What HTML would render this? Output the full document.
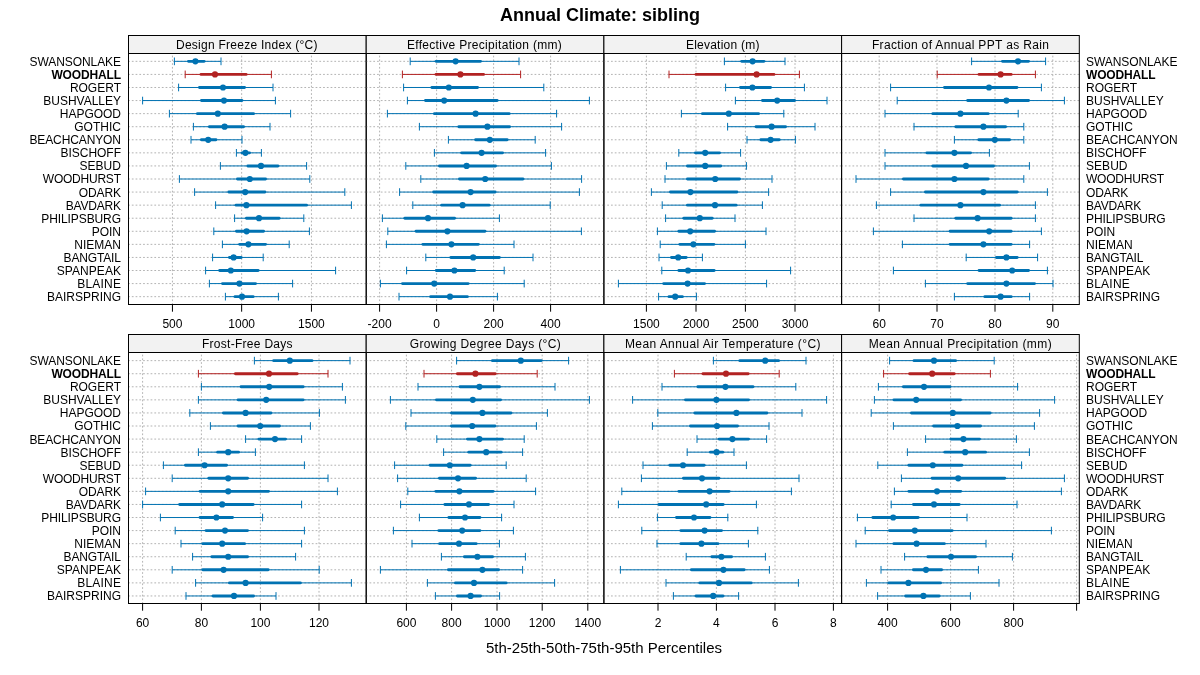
<!DOCTYPE html><html><head><meta charset="utf-8"><title>Annual Climate: sibling</title>
<style>html,body{margin:0;padding:0;background:#fff;}svg{display:block;will-change:transform;}text{font-family:'Liberation Sans', Arial, Helvetica, sans-serif;fill:#000;}</style></head><body>
<svg width="1200" height="675" viewBox="0 0 1200 675">
<rect x="0" y="0" width="1200" height="675" fill="#fff"/>
<text x="600" y="20.6" text-anchor="middle" font-weight="bold" font-size="18">Annual Climate: sibling</text>
<text x="121" y="66" text-anchor="end" font-size="12" textLength="91.45" lengthAdjust="spacing">SWANSONLAKE</text>
<text x="1086" y="66" font-size="12" textLength="91.45" lengthAdjust="spacing">SWANSONLAKE</text>
<text x="121" y="79" text-anchor="end" font-size="12" textLength="69.61" lengthAdjust="spacing" font-weight="bold">WOODHALL</text>
<text x="1086" y="79" font-size="12" textLength="69.61" lengthAdjust="spacing" font-weight="bold">WOODHALL</text>
<text x="121" y="92" text-anchor="end" font-size="12" textLength="51.12" lengthAdjust="spacing">ROGERT</text>
<text x="1086" y="92" font-size="12" textLength="51.12" lengthAdjust="spacing">ROGERT</text>
<text x="121" y="105" text-anchor="end" font-size="12" textLength="77.71" lengthAdjust="spacing">BUSHVALLEY</text>
<text x="1086" y="105" font-size="12" textLength="77.71" lengthAdjust="spacing">BUSHVALLEY</text>
<text x="121" y="118" text-anchor="end" font-size="12" textLength="61.24" lengthAdjust="spacing">HAPGOOD</text>
<text x="1086" y="118" font-size="12" textLength="61.24" lengthAdjust="spacing">HAPGOOD</text>
<text x="121" y="131" text-anchor="end" font-size="12" textLength="46.87" lengthAdjust="spacing">GOTHIC</text>
<text x="1086" y="131" font-size="12" textLength="46.87" lengthAdjust="spacing">GOTHIC</text>
<text x="121" y="144" text-anchor="end" font-size="12" textLength="91.59" lengthAdjust="spacing">BEACHCANYON</text>
<text x="1086" y="144" font-size="12" textLength="91.59" lengthAdjust="spacing">BEACHCANYON</text>
<text x="121" y="157" text-anchor="end" font-size="12" textLength="60.47" lengthAdjust="spacing">BISCHOFF</text>
<text x="1086" y="157" font-size="12" textLength="60.47" lengthAdjust="spacing">BISCHOFF</text>
<text x="121" y="170" text-anchor="end" font-size="12" textLength="41.54" lengthAdjust="spacing">SEBUD</text>
<text x="1086" y="170" font-size="12" textLength="41.54" lengthAdjust="spacing">SEBUD</text>
<text x="121" y="183" text-anchor="end" font-size="12" textLength="78.2" lengthAdjust="spacing">WOODHURST</text>
<text x="1086" y="183" font-size="12" textLength="78.2" lengthAdjust="spacing">WOODHURST</text>
<text x="121" y="197" text-anchor="end" font-size="12" textLength="42.19" lengthAdjust="spacing">ODARK</text>
<text x="1086" y="197" font-size="12" textLength="42.19" lengthAdjust="spacing">ODARK</text>
<text x="121" y="210" text-anchor="end" font-size="12" textLength="55.27" lengthAdjust="spacing">BAVDARK</text>
<text x="1086" y="210" font-size="12" textLength="55.27" lengthAdjust="spacing">BAVDARK</text>
<text x="121" y="223" text-anchor="end" font-size="12" textLength="79.65" lengthAdjust="spacing">PHILIPSBURG</text>
<text x="1086" y="223" font-size="12" textLength="79.65" lengthAdjust="spacing">PHILIPSBURG</text>
<text x="121" y="236" text-anchor="end" font-size="12" textLength="29.29" lengthAdjust="spacing">POIN</text>
<text x="1086" y="236" font-size="12" textLength="29.29" lengthAdjust="spacing">POIN</text>
<text x="121" y="249" text-anchor="end" font-size="12" textLength="46.67" lengthAdjust="spacing">NIEMAN</text>
<text x="1086" y="249" font-size="12" textLength="46.67" lengthAdjust="spacing">NIEMAN</text>
<text x="121" y="262" text-anchor="end" font-size="12" textLength="57.47" lengthAdjust="spacing">BANGTAIL</text>
<text x="1086" y="262" font-size="12" textLength="57.47" lengthAdjust="spacing">BANGTAIL</text>
<text x="121" y="275" text-anchor="end" font-size="12" textLength="64.21" lengthAdjust="spacing">SPANPEAK</text>
<text x="1086" y="275" font-size="12" textLength="64.21" lengthAdjust="spacing">SPANPEAK</text>
<text x="121" y="288" text-anchor="end" font-size="12" textLength="43.79" lengthAdjust="spacing">BLAINE</text>
<text x="1086" y="288" font-size="12" textLength="43.79" lengthAdjust="spacing">BLAINE</text>
<text x="121" y="301" text-anchor="end" font-size="12" textLength="73.97" lengthAdjust="spacing">BAIRSPRING</text>
<text x="1086" y="301" font-size="12" textLength="73.97" lengthAdjust="spacing">BAIRSPRING</text>
<rect x="128.5" y="35.5" width="237.7" height="18" fill="#f2f2f2"/>
<text x="176" y="49" font-size="12" textLength="141.52" lengthAdjust="spacing">Design Freeze Index (°C)</text>
<path d="M128.5 61.34H366.2M128.5 74.42H366.2M128.5 87.49H366.2M128.5 100.56H366.2M128.5 113.64H366.2M128.5 126.71H366.2M128.5 139.78H366.2M128.5 152.85H366.2M128.5 165.93H366.2M128.5 179H366.2M128.5 192.07H366.2M128.5 205.15H366.2M128.5 218.22H366.2M128.5 231.29H366.2M128.5 244.36H366.2M128.5 257.44H366.2M128.5 270.51H366.2M128.5 283.58H366.2M128.5 296.66H366.2M172.45 304.5V53.5M241.65 304.5V53.5M311.45 304.5V53.5" stroke="#afafaf" stroke-width="0.95" stroke-dasharray="0.95 2.8" stroke-linecap="round" fill="none"/>
<g stroke="#0072B2" fill="#0072B2">
<path d="M174.4 61.34H221M174.4 57.49V65.19M221 57.49V65.19" stroke-width="1" fill="none"/>
<path d="M188.45 61.34H204.15" stroke-width="2.9" stroke-linecap="round" fill="none"/>
<circle cx="195.4" cy="61.34" r="3.1" stroke="none"/>
</g>
<g stroke="#B22222" fill="#B22222">
<path d="M185.2 74.42H271.4M185.2 70.57V78.27M271.4 70.57V78.27" stroke-width="1" fill="none"/>
<path d="M201.05 74.42H246.15" stroke-width="2.9" stroke-linecap="round" fill="none"/>
<circle cx="215" cy="74.42" r="3.1" stroke="none"/>
</g>
<g stroke="#0072B2" fill="#0072B2">
<path d="M178.6 87.49H273M178.6 83.64V91.34M273 83.64V91.34" stroke-width="1" fill="none"/>
<path d="M199.45 87.49H244.55" stroke-width="2.9" stroke-linecap="round" fill="none"/>
<circle cx="223" cy="87.49" r="3.1" stroke="none"/>
</g>
<g stroke="#0072B2" fill="#0072B2">
<path d="M142.6 100.56H275.4M142.6 96.71V104.41M275.4 96.71V104.41" stroke-width="1" fill="none"/>
<path d="M201.45 100.56H241.95" stroke-width="2.9" stroke-linecap="round" fill="none"/>
<circle cx="224" cy="100.56" r="3.1" stroke="none"/>
</g>
<g stroke="#0072B2" fill="#0072B2">
<path d="M169.4 113.64H290.6M169.4 109.79V117.49M290.6 109.79V117.49" stroke-width="1" fill="none"/>
<path d="M197.45 113.64H253.55" stroke-width="2.9" stroke-linecap="round" fill="none"/>
<circle cx="217.8" cy="113.64" r="3.1" stroke="none"/>
</g>
<g stroke="#0072B2" fill="#0072B2">
<path d="M193.4 126.71H270M193.4 122.86V130.56M270 122.86V130.56" stroke-width="1" fill="none"/>
<path d="M209.45 126.71H243.55" stroke-width="2.9" stroke-linecap="round" fill="none"/>
<circle cx="224.6" cy="126.71" r="3.1" stroke="none"/>
</g>
<g stroke="#0072B2" fill="#0072B2">
<path d="M191 139.78H242M191 135.93V143.63M242 135.93V143.63" stroke-width="1" fill="none"/>
<path d="M201.45 139.78H215.95" stroke-width="2.9" stroke-linecap="round" fill="none"/>
<circle cx="208.2" cy="139.78" r="3.1" stroke="none"/>
</g>
<g stroke="#0072B2" fill="#0072B2">
<path d="M236.4 152.85H261.4M236.4 149V156.7M261.4 149V156.7" stroke-width="1" fill="none"/>
<path d="M242.05 152.85H249.55" stroke-width="2.9" stroke-linecap="round" fill="none"/>
<circle cx="245.4" cy="152.85" r="3.1" stroke="none"/>
</g>
<g stroke="#0072B2" fill="#0072B2">
<path d="M220.4 165.93H306.6M220.4 162.08V169.78M306.6 162.08V169.78" stroke-width="1" fill="none"/>
<path d="M247.85 165.93H277.95" stroke-width="2.9" stroke-linecap="round" fill="none"/>
<circle cx="261" cy="165.93" r="3.1" stroke="none"/>
</g>
<g stroke="#0072B2" fill="#0072B2">
<path d="M179.4 179H309.8M179.4 175.15V182.85M309.8 175.15V182.85" stroke-width="1" fill="none"/>
<path d="M237.45 179H265.55" stroke-width="2.9" stroke-linecap="round" fill="none"/>
<circle cx="249.8" cy="179" r="3.1" stroke="none"/>
</g>
<g stroke="#0072B2" fill="#0072B2">
<path d="M194.6 192.07H344.8M194.6 188.22V195.92M344.8 188.22V195.92" stroke-width="1" fill="none"/>
<path d="M228.85 192.07H264.95" stroke-width="2.9" stroke-linecap="round" fill="none"/>
<circle cx="245.2" cy="192.07" r="3.1" stroke="none"/>
</g>
<g stroke="#0072B2" fill="#0072B2">
<path d="M215.6 205.15H351.4M215.6 201.3V209M351.4 201.3V209" stroke-width="1" fill="none"/>
<path d="M236.05 205.15H306.55" stroke-width="2.9" stroke-linecap="round" fill="none"/>
<circle cx="246.4" cy="205.15" r="3.1" stroke="none"/>
</g>
<g stroke="#0072B2" fill="#0072B2">
<path d="M234.6 218.22H303.8M234.6 214.37V222.07M303.8 214.37V222.07" stroke-width="1" fill="none"/>
<path d="M246.45 218.22H279.15" stroke-width="2.9" stroke-linecap="round" fill="none"/>
<circle cx="259" cy="218.22" r="3.1" stroke="none"/>
</g>
<g stroke="#0072B2" fill="#0072B2">
<path d="M213.8 231.29H309.4M213.8 227.44V235.14M309.4 227.44V235.14" stroke-width="1" fill="none"/>
<path d="M236.45 231.29H263.55" stroke-width="2.9" stroke-linecap="round" fill="none"/>
<circle cx="246.6" cy="231.29" r="3.1" stroke="none"/>
</g>
<g stroke="#0072B2" fill="#0072B2">
<path d="M222.4 244.36H289.2M222.4 240.51V248.21M289.2 240.51V248.21" stroke-width="1" fill="none"/>
<path d="M239.65 244.36H265.55" stroke-width="2.9" stroke-linecap="round" fill="none"/>
<circle cx="248.4" cy="244.36" r="3.1" stroke="none"/>
</g>
<g stroke="#0072B2" fill="#0072B2">
<path d="M212.6 257.44H263.2M212.6 253.59V261.29M263.2 253.59V261.29" stroke-width="1" fill="none"/>
<path d="M229.45 257.44H241.15" stroke-width="2.9" stroke-linecap="round" fill="none"/>
<circle cx="233.6" cy="257.44" r="3.1" stroke="none"/>
</g>
<g stroke="#0072B2" fill="#0072B2">
<path d="M205.6 270.51H335.6M205.6 266.66V274.36M335.6 266.66V274.36" stroke-width="1" fill="none"/>
<path d="M219.65 270.51H258.15" stroke-width="2.9" stroke-linecap="round" fill="none"/>
<circle cx="230.8" cy="270.51" r="3.1" stroke="none"/>
</g>
<g stroke="#0072B2" fill="#0072B2">
<path d="M209.4 283.58H292.6M209.4 279.73V287.43M292.6 279.73V287.43" stroke-width="1" fill="none"/>
<path d="M222.45 283.58H255.55" stroke-width="2.9" stroke-linecap="round" fill="none"/>
<circle cx="239.4" cy="283.58" r="3.1" stroke="none"/>
</g>
<g stroke="#0072B2" fill="#0072B2">
<path d="M225.4 296.66H278.4M225.4 292.81V300.51M278.4 292.81V300.51" stroke-width="1" fill="none"/>
<path d="M235.05 296.66H253.15" stroke-width="2.9" stroke-linecap="round" fill="none"/>
<circle cx="242" cy="296.66" r="3.1" stroke="none"/>
</g>
<path d="M172.45 304.5V311.7M241.65 304.5V311.7M311.45 304.5V311.7" stroke="#000" stroke-width="1" fill="none"/>
<text x="172.45" y="328" text-anchor="middle" font-size="12">500</text>
<text x="241.65" y="328" text-anchor="middle" font-size="12">1000</text>
<text x="311.45" y="328" text-anchor="middle" font-size="12">1500</text>
<rect x="128.5" y="35.5" width="237.7" height="269" fill="none" stroke="#000" stroke-width="1"/>
<path d="M128.5 53.5H366.2" stroke="#000" stroke-width="1"/>
<rect x="366.2" y="35.5" width="237.7" height="18" fill="#f2f2f2"/>
<text x="406.9" y="49" font-size="12" textLength="154.9" lengthAdjust="spacing">Effective Precipitation (mm)</text>
<path d="M366.2 61.34H603.9M366.2 74.42H603.9M366.2 87.49H603.9M366.2 100.56H603.9M366.2 113.64H603.9M366.2 126.71H603.9M366.2 139.78H603.9M366.2 152.85H603.9M366.2 165.93H603.9M366.2 179H603.9M366.2 192.07H603.9M366.2 205.15H603.9M366.2 218.22H603.9M366.2 231.29H603.9M366.2 244.36H603.9M366.2 257.44H603.9M366.2 270.51H603.9M366.2 283.58H603.9M366.2 296.66H603.9M379.6 304.5V53.5M436.6 304.5V53.5M493.6 304.5V53.5M550.6 304.5V53.5" stroke="#afafaf" stroke-width="0.95" stroke-dasharray="0.95 2.8" stroke-linecap="round" fill="none"/>
<g stroke="#0072B2" fill="#0072B2">
<path d="M410.2 61.34H519M410.2 57.49V65.19M519 57.49V65.19" stroke-width="1" fill="none"/>
<path d="M436.05 61.34H480.55" stroke-width="2.9" stroke-linecap="round" fill="none"/>
<circle cx="455.6" cy="61.34" r="3.1" stroke="none"/>
</g>
<g stroke="#B22222" fill="#B22222">
<path d="M402.4 74.42H520.6M402.4 70.57V78.27M520.6 70.57V78.27" stroke-width="1" fill="none"/>
<path d="M436.05 74.42H483.55" stroke-width="2.9" stroke-linecap="round" fill="none"/>
<circle cx="460.4" cy="74.42" r="3.1" stroke="none"/>
</g>
<g stroke="#0072B2" fill="#0072B2">
<path d="M403.6 87.49H543.8M403.6 83.64V91.34M543.8 83.64V91.34" stroke-width="1" fill="none"/>
<path d="M431.85 87.49H477.55" stroke-width="2.9" stroke-linecap="round" fill="none"/>
<circle cx="448.8" cy="87.49" r="3.1" stroke="none"/>
</g>
<g stroke="#0072B2" fill="#0072B2">
<path d="M407.4 100.56H589.4M407.4 96.71V104.41M589.4 96.71V104.41" stroke-width="1" fill="none"/>
<path d="M425.45 100.56H497.15" stroke-width="2.9" stroke-linecap="round" fill="none"/>
<circle cx="444.2" cy="100.56" r="3.1" stroke="none"/>
</g>
<g stroke="#0072B2" fill="#0072B2">
<path d="M387.4 113.64H556.6M387.4 109.79V117.49M556.6 109.79V117.49" stroke-width="1" fill="none"/>
<path d="M434.45 113.64H509.15" stroke-width="2.9" stroke-linecap="round" fill="none"/>
<circle cx="475.6" cy="113.64" r="3.1" stroke="none"/>
</g>
<g stroke="#0072B2" fill="#0072B2">
<path d="M419.4 126.71H561.6M419.4 122.86V130.56M561.6 122.86V130.56" stroke-width="1" fill="none"/>
<path d="M458.85 126.71H509.55" stroke-width="2.9" stroke-linecap="round" fill="none"/>
<circle cx="487.4" cy="126.71" r="3.1" stroke="none"/>
</g>
<g stroke="#0072B2" fill="#0072B2">
<path d="M448.4 139.78H535.2M448.4 135.93V143.63M535.2 135.93V143.63" stroke-width="1" fill="none"/>
<path d="M475.65 139.78H507.15" stroke-width="2.9" stroke-linecap="round" fill="none"/>
<circle cx="489.8" cy="139.78" r="3.1" stroke="none"/>
</g>
<g stroke="#0072B2" fill="#0072B2">
<path d="M434.4 152.85H545.6M434.4 149V156.7M545.6 149V156.7" stroke-width="1" fill="none"/>
<path d="M461.65 152.85H502.55" stroke-width="2.9" stroke-linecap="round" fill="none"/>
<circle cx="481.6" cy="152.85" r="3.1" stroke="none"/>
</g>
<g stroke="#0072B2" fill="#0072B2">
<path d="M405.8 165.93H551.4M405.8 162.08V169.78M551.4 162.08V169.78" stroke-width="1" fill="none"/>
<path d="M439.45 165.93H495.55" stroke-width="2.9" stroke-linecap="round" fill="none"/>
<circle cx="466.6" cy="165.93" r="3.1" stroke="none"/>
</g>
<g stroke="#0072B2" fill="#0072B2">
<path d="M420.8 179H581.6M420.8 175.15V182.85M581.6 175.15V182.85" stroke-width="1" fill="none"/>
<path d="M459.45 179H522.95" stroke-width="2.9" stroke-linecap="round" fill="none"/>
<circle cx="485.2" cy="179" r="3.1" stroke="none"/>
</g>
<g stroke="#0072B2" fill="#0072B2">
<path d="M399.6 192.07H579.4M399.6 188.22V195.92M579.4 188.22V195.92" stroke-width="1" fill="none"/>
<path d="M433.65 192.07H495.15" stroke-width="2.9" stroke-linecap="round" fill="none"/>
<circle cx="470.6" cy="192.07" r="3.1" stroke="none"/>
</g>
<g stroke="#0072B2" fill="#0072B2">
<path d="M412.8 205.15H550.2M412.8 201.3V209M550.2 201.3V209" stroke-width="1" fill="none"/>
<path d="M441.65 205.15H489.15" stroke-width="2.9" stroke-linecap="round" fill="none"/>
<circle cx="462.6" cy="205.15" r="3.1" stroke="none"/>
</g>
<g stroke="#0072B2" fill="#0072B2">
<path d="M382.4 218.22H499.4M382.4 214.37V222.07M499.4 214.37V222.07" stroke-width="1" fill="none"/>
<path d="M404.85 218.22H454.55" stroke-width="2.9" stroke-linecap="round" fill="none"/>
<circle cx="428" cy="218.22" r="3.1" stroke="none"/>
</g>
<g stroke="#0072B2" fill="#0072B2">
<path d="M387.8 231.29H581.4M387.8 227.44V235.14M581.4 227.44V235.14" stroke-width="1" fill="none"/>
<path d="M416.05 231.29H484.95" stroke-width="2.9" stroke-linecap="round" fill="none"/>
<circle cx="447.4" cy="231.29" r="3.1" stroke="none"/>
</g>
<g stroke="#0072B2" fill="#0072B2">
<path d="M386.4 244.36H514M386.4 240.51V248.21M514 240.51V248.21" stroke-width="1" fill="none"/>
<path d="M422.85 244.36H478.35" stroke-width="2.9" stroke-linecap="round" fill="none"/>
<circle cx="451.4" cy="244.36" r="3.1" stroke="none"/>
</g>
<g stroke="#0072B2" fill="#0072B2">
<path d="M425.8 257.44H533M425.8 253.59V261.29M533 253.59V261.29" stroke-width="1" fill="none"/>
<path d="M450.85 257.44H499.35" stroke-width="2.9" stroke-linecap="round" fill="none"/>
<circle cx="473.2" cy="257.44" r="3.1" stroke="none"/>
</g>
<g stroke="#0072B2" fill="#0072B2">
<path d="M406.6 270.51H504.2M406.6 266.66V274.36M504.2 266.66V274.36" stroke-width="1" fill="none"/>
<path d="M436.25 270.51H474.75" stroke-width="2.9" stroke-linecap="round" fill="none"/>
<circle cx="454.4" cy="270.51" r="3.1" stroke="none"/>
</g>
<g stroke="#0072B2" fill="#0072B2">
<path d="M380.4 283.58H524.2M380.4 279.73V287.43M524.2 279.73V287.43" stroke-width="1" fill="none"/>
<path d="M402.45 283.58H468.15" stroke-width="2.9" stroke-linecap="round" fill="none"/>
<circle cx="434.2" cy="283.58" r="3.1" stroke="none"/>
</g>
<g stroke="#0072B2" fill="#0072B2">
<path d="M399 296.66H497.4M399 292.81V300.51M497.4 292.81V300.51" stroke-width="1" fill="none"/>
<path d="M430.65 296.66H467.35" stroke-width="2.9" stroke-linecap="round" fill="none"/>
<circle cx="450" cy="296.66" r="3.1" stroke="none"/>
</g>
<path d="M379.6 304.5V311.7M436.6 304.5V311.7M493.6 304.5V311.7M550.6 304.5V311.7" stroke="#000" stroke-width="1" fill="none"/>
<text x="379.6" y="328" text-anchor="middle" font-size="12">-200</text>
<text x="436.6" y="328" text-anchor="middle" font-size="12">0</text>
<text x="493.6" y="328" text-anchor="middle" font-size="12">200</text>
<text x="550.6" y="328" text-anchor="middle" font-size="12">400</text>
<rect x="366.2" y="35.5" width="237.7" height="269" fill="none" stroke="#000" stroke-width="1"/>
<path d="M366.2 53.5H603.9" stroke="#000" stroke-width="1"/>
<rect x="603.9" y="35.5" width="237.7" height="18" fill="#f2f2f2"/>
<text x="685.9" y="49" font-size="12" textLength="73.49" lengthAdjust="spacing">Elevation (m)</text>
<path d="M603.9 61.34H841.6M603.9 74.42H841.6M603.9 87.49H841.6M603.9 100.56H841.6M603.9 113.64H841.6M603.9 126.71H841.6M603.9 139.78H841.6M603.9 152.85H841.6M603.9 165.93H841.6M603.9 179H841.6M603.9 192.07H841.6M603.9 205.15H841.6M603.9 218.22H841.6M603.9 231.29H841.6M603.9 244.36H841.6M603.9 257.44H841.6M603.9 270.51H841.6M603.9 283.58H841.6M603.9 296.66H841.6M646.4 304.5V53.5M696 304.5V53.5M745.4 304.5V53.5M795 304.5V53.5" stroke="#afafaf" stroke-width="0.95" stroke-dasharray="0.95 2.8" stroke-linecap="round" fill="none"/>
<g stroke="#0072B2" fill="#0072B2">
<path d="M724.4 61.34H785M724.4 57.49V65.19M785 57.49V65.19" stroke-width="1" fill="none"/>
<path d="M741.65 61.34H763.95" stroke-width="2.9" stroke-linecap="round" fill="none"/>
<circle cx="752.6" cy="61.34" r="3.1" stroke="none"/>
</g>
<g stroke="#B22222" fill="#B22222">
<path d="M669 74.42H799.4M669 70.57V78.27M799.4 70.57V78.27" stroke-width="1" fill="none"/>
<path d="M696.05 74.42H773.95" stroke-width="2.9" stroke-linecap="round" fill="none"/>
<circle cx="756.6" cy="74.42" r="3.1" stroke="none"/>
</g>
<g stroke="#0072B2" fill="#0072B2">
<path d="M725.6 87.49H804.4M725.6 83.64V91.34M804.4 83.64V91.34" stroke-width="1" fill="none"/>
<path d="M740.45 87.49H770.55" stroke-width="2.9" stroke-linecap="round" fill="none"/>
<circle cx="752.4" cy="87.49" r="3.1" stroke="none"/>
</g>
<g stroke="#0072B2" fill="#0072B2">
<path d="M735.4 100.56H827M735.4 96.71V104.41M827 96.71V104.41" stroke-width="1" fill="none"/>
<path d="M762.45 100.56H794.55" stroke-width="2.9" stroke-linecap="round" fill="none"/>
<circle cx="777.2" cy="100.56" r="3.1" stroke="none"/>
</g>
<g stroke="#0072B2" fill="#0072B2">
<path d="M681.4 113.64H783.8M681.4 109.79V117.49M783.8 109.79V117.49" stroke-width="1" fill="none"/>
<path d="M702.45 113.64H758.55" stroke-width="2.9" stroke-linecap="round" fill="none"/>
<circle cx="728.8" cy="113.64" r="3.1" stroke="none"/>
</g>
<g stroke="#0072B2" fill="#0072B2">
<path d="M727.6 126.71H815M727.6 122.86V130.56M815 122.86V130.56" stroke-width="1" fill="none"/>
<path d="M756.05 126.71H785.55" stroke-width="2.9" stroke-linecap="round" fill="none"/>
<circle cx="771.6" cy="126.71" r="3.1" stroke="none"/>
</g>
<g stroke="#0072B2" fill="#0072B2">
<path d="M747 139.78H795.4M747 135.93V143.63M795.4 135.93V143.63" stroke-width="1" fill="none"/>
<path d="M760.85 139.78H779.15" stroke-width="2.9" stroke-linecap="round" fill="none"/>
<circle cx="770.6" cy="139.78" r="3.1" stroke="none"/>
</g>
<g stroke="#0072B2" fill="#0072B2">
<path d="M678.8 152.85H740.6M678.8 149V156.7M740.6 149V156.7" stroke-width="1" fill="none"/>
<path d="M695.45 152.85H719.55" stroke-width="2.9" stroke-linecap="round" fill="none"/>
<circle cx="705.2" cy="152.85" r="3.1" stroke="none"/>
</g>
<g stroke="#0072B2" fill="#0072B2">
<path d="M666.4 165.93H746.4M666.4 162.08V169.78M746.4 162.08V169.78" stroke-width="1" fill="none"/>
<path d="M687.45 165.93H720.75" stroke-width="2.9" stroke-linecap="round" fill="none"/>
<circle cx="705.2" cy="165.93" r="3.1" stroke="none"/>
</g>
<g stroke="#0072B2" fill="#0072B2">
<path d="M665 179H772M665 175.15V182.85M772 175.15V182.85" stroke-width="1" fill="none"/>
<path d="M687.45 179H739.55" stroke-width="2.9" stroke-linecap="round" fill="none"/>
<circle cx="715.2" cy="179" r="3.1" stroke="none"/>
</g>
<g stroke="#0072B2" fill="#0072B2">
<path d="M651.4 192.07H768.6M651.4 188.22V195.92M768.6 188.22V195.92" stroke-width="1" fill="none"/>
<path d="M670.45 192.07H736.95" stroke-width="2.9" stroke-linecap="round" fill="none"/>
<circle cx="690.4" cy="192.07" r="3.1" stroke="none"/>
</g>
<g stroke="#0072B2" fill="#0072B2">
<path d="M662.2 205.15H762.4M662.2 201.3V209M762.4 201.3V209" stroke-width="1" fill="none"/>
<path d="M687.45 205.15H736.15" stroke-width="2.9" stroke-linecap="round" fill="none"/>
<circle cx="715" cy="205.15" r="3.1" stroke="none"/>
</g>
<g stroke="#0072B2" fill="#0072B2">
<path d="M665.6 218.22H735M665.6 214.37V222.07M735 214.37V222.07" stroke-width="1" fill="none"/>
<path d="M683.85 218.22H712.15" stroke-width="2.9" stroke-linecap="round" fill="none"/>
<circle cx="699.8" cy="218.22" r="3.1" stroke="none"/>
</g>
<g stroke="#0072B2" fill="#0072B2">
<path d="M657.4 231.29H766M657.4 227.44V235.14M766 227.44V235.14" stroke-width="1" fill="none"/>
<path d="M678.85 231.29H714.55" stroke-width="2.9" stroke-linecap="round" fill="none"/>
<circle cx="690.2" cy="231.29" r="3.1" stroke="none"/>
</g>
<g stroke="#0072B2" fill="#0072B2">
<path d="M660.2 244.36H745.4M660.2 240.51V248.21M745.4 240.51V248.21" stroke-width="1" fill="none"/>
<path d="M679.85 244.36H713.95" stroke-width="2.9" stroke-linecap="round" fill="none"/>
<circle cx="693.4" cy="244.36" r="3.1" stroke="none"/>
</g>
<g stroke="#0072B2" fill="#0072B2">
<path d="M659 257.44H702.4M659 253.59V261.29M702.4 253.59V261.29" stroke-width="1" fill="none"/>
<path d="M671.45 257.44H686.15" stroke-width="2.9" stroke-linecap="round" fill="none"/>
<circle cx="678.2" cy="257.44" r="3.1" stroke="none"/>
</g>
<g stroke="#0072B2" fill="#0072B2">
<path d="M661.8 270.51H790.6M661.8 266.66V274.36M790.6 266.66V274.36" stroke-width="1" fill="none"/>
<path d="M678.85 270.51H714.15" stroke-width="2.9" stroke-linecap="round" fill="none"/>
<circle cx="688" cy="270.51" r="3.1" stroke="none"/>
</g>
<g stroke="#0072B2" fill="#0072B2">
<path d="M618.4 283.58H766.6M618.4 279.73V287.43M766.6 279.73V287.43" stroke-width="1" fill="none"/>
<path d="M663.65 283.58H704.55" stroke-width="2.9" stroke-linecap="round" fill="none"/>
<circle cx="687.6" cy="283.58" r="3.1" stroke="none"/>
</g>
<g stroke="#0072B2" fill="#0072B2">
<path d="M658.6 296.66H696.4M658.6 292.81V300.51M696.4 292.81V300.51" stroke-width="1" fill="none"/>
<path d="M669.05 296.66H682.35" stroke-width="2.9" stroke-linecap="round" fill="none"/>
<circle cx="675.2" cy="296.66" r="3.1" stroke="none"/>
</g>
<path d="M646.4 304.5V311.7M696 304.5V311.7M745.4 304.5V311.7M795 304.5V311.7" stroke="#000" stroke-width="1" fill="none"/>
<text x="646.4" y="328" text-anchor="middle" font-size="12">1500</text>
<text x="696" y="328" text-anchor="middle" font-size="12">2000</text>
<text x="745.4" y="328" text-anchor="middle" font-size="12">2500</text>
<text x="795" y="328" text-anchor="middle" font-size="12">3000</text>
<rect x="603.9" y="35.5" width="237.7" height="269" fill="none" stroke="#000" stroke-width="1"/>
<path d="M603.9 53.5H841.6" stroke="#000" stroke-width="1"/>
<rect x="841.6" y="35.5" width="237.7" height="18" fill="#f2f2f2"/>
<text x="871.9" y="49" font-size="12" textLength="177" lengthAdjust="spacing">Fraction of Annual PPT as Rain</text>
<path d="M841.6 61.34H1079.3M841.6 74.42H1079.3M841.6 87.49H1079.3M841.6 100.56H1079.3M841.6 113.64H1079.3M841.6 126.71H1079.3M841.6 139.78H1079.3M841.6 152.85H1079.3M841.6 165.93H1079.3M841.6 179H1079.3M841.6 192.07H1079.3M841.6 205.15H1079.3M841.6 218.22H1079.3M841.6 231.29H1079.3M841.6 244.36H1079.3M841.6 257.44H1079.3M841.6 270.51H1079.3M841.6 283.58H1079.3M841.6 296.66H1079.3M879.2 304.5V53.5M937 304.5V53.5M995 304.5V53.5M1052.8 304.5V53.5" stroke="#afafaf" stroke-width="0.95" stroke-dasharray="0.95 2.8" stroke-linecap="round" fill="none"/>
<g stroke="#0072B2" fill="#0072B2">
<path d="M971.6 61.34H1045.6M971.6 57.49V65.19M1045.6 57.49V65.19" stroke-width="1" fill="none"/>
<path d="M1002.45 61.34H1028.55" stroke-width="2.9" stroke-linecap="round" fill="none"/>
<circle cx="1018" cy="61.34" r="3.1" stroke="none"/>
</g>
<g stroke="#B22222" fill="#B22222">
<path d="M937.2 74.42H1035.4M937.2 70.57V78.27M1035.4 70.57V78.27" stroke-width="1" fill="none"/>
<path d="M979.05 74.42H1011.15" stroke-width="2.9" stroke-linecap="round" fill="none"/>
<circle cx="1000.6" cy="74.42" r="3.1" stroke="none"/>
</g>
<g stroke="#0072B2" fill="#0072B2">
<path d="M890.6 87.49H1041.4M890.6 83.64V91.34M1041.4 83.64V91.34" stroke-width="1" fill="none"/>
<path d="M944.45 87.49H1016.95" stroke-width="2.9" stroke-linecap="round" fill="none"/>
<circle cx="989" cy="87.49" r="3.1" stroke="none"/>
</g>
<g stroke="#0072B2" fill="#0072B2">
<path d="M897.2 100.56H1064.4M897.2 96.71V104.41M1064.4 96.71V104.41" stroke-width="1" fill="none"/>
<path d="M967.65 100.56H1028.55" stroke-width="2.9" stroke-linecap="round" fill="none"/>
<circle cx="1006.4" cy="100.56" r="3.1" stroke="none"/>
</g>
<g stroke="#0072B2" fill="#0072B2">
<path d="M885 113.64H1018.2M885 109.79V117.49M1018.2 109.79V117.49" stroke-width="1" fill="none"/>
<path d="M932.85 113.64H988.15" stroke-width="2.9" stroke-linecap="round" fill="none"/>
<circle cx="960.4" cy="113.64" r="3.1" stroke="none"/>
</g>
<g stroke="#0072B2" fill="#0072B2">
<path d="M914 126.71H1023.8M914 122.86V130.56M1023.8 122.86V130.56" stroke-width="1" fill="none"/>
<path d="M955.85 126.71H1005.55" stroke-width="2.9" stroke-linecap="round" fill="none"/>
<circle cx="983.4" cy="126.71" r="3.1" stroke="none"/>
</g>
<g stroke="#0072B2" fill="#0072B2">
<path d="M954.4 139.78H1023.8M954.4 135.93V143.63M1023.8 135.93V143.63" stroke-width="1" fill="none"/>
<path d="M978.85 139.78H1009.55" stroke-width="2.9" stroke-linecap="round" fill="none"/>
<circle cx="994.8" cy="139.78" r="3.1" stroke="none"/>
</g>
<g stroke="#0072B2" fill="#0072B2">
<path d="M885 152.85H989.4M885 149V156.7M989.4 149V156.7" stroke-width="1" fill="none"/>
<path d="M926.85 152.85H970.55" stroke-width="2.9" stroke-linecap="round" fill="none"/>
<circle cx="954.4" cy="152.85" r="3.1" stroke="none"/>
</g>
<g stroke="#0072B2" fill="#0072B2">
<path d="M885 165.93H1029.4M885 162.08V169.78M1029.4 162.08V169.78" stroke-width="1" fill="none"/>
<path d="M932.85 165.93H993.55" stroke-width="2.9" stroke-linecap="round" fill="none"/>
<circle cx="966" cy="165.93" r="3.1" stroke="none"/>
</g>
<g stroke="#0072B2" fill="#0072B2">
<path d="M856 179H1023.8M856 175.15V182.85M1023.8 175.15V182.85" stroke-width="1" fill="none"/>
<path d="M903.45 179H988.15" stroke-width="2.9" stroke-linecap="round" fill="none"/>
<circle cx="954.4" cy="179" r="3.1" stroke="none"/>
</g>
<g stroke="#0072B2" fill="#0072B2">
<path d="M890.6 192.07H1047.4M890.6 188.22V195.92M1047.4 188.22V195.92" stroke-width="1" fill="none"/>
<path d="M925.45 192.07H1017.15" stroke-width="2.9" stroke-linecap="round" fill="none"/>
<circle cx="983.4" cy="192.07" r="3.1" stroke="none"/>
</g>
<g stroke="#0072B2" fill="#0072B2">
<path d="M876.4 205.15H1035.4M876.4 201.3V209M1035.4 201.3V209" stroke-width="1" fill="none"/>
<path d="M920.85 205.15H999.55" stroke-width="2.9" stroke-linecap="round" fill="none"/>
<circle cx="960.4" cy="205.15" r="3.1" stroke="none"/>
</g>
<g stroke="#0072B2" fill="#0072B2">
<path d="M914 218.22H1035.4M914 214.37V222.07M1035.4 214.37V222.07" stroke-width="1" fill="none"/>
<path d="M955.85 218.22H1011.15" stroke-width="2.9" stroke-linecap="round" fill="none"/>
<circle cx="977.6" cy="218.22" r="3.1" stroke="none"/>
</g>
<g stroke="#0072B2" fill="#0072B2">
<path d="M873.4 231.29H1041.4M873.4 227.44V235.14M1041.4 227.44V235.14" stroke-width="1" fill="none"/>
<path d="M950.05 231.29H1011.15" stroke-width="2.9" stroke-linecap="round" fill="none"/>
<circle cx="989.2" cy="231.29" r="3.1" stroke="none"/>
</g>
<g stroke="#0072B2" fill="#0072B2">
<path d="M902.4 244.36H1029.6M902.4 240.51V248.21M1029.6 240.51V248.21" stroke-width="1" fill="none"/>
<path d="M950.05 244.36H1011.15" stroke-width="2.9" stroke-linecap="round" fill="none"/>
<circle cx="983.4" cy="244.36" r="3.1" stroke="none"/>
</g>
<g stroke="#0072B2" fill="#0072B2">
<path d="M966.2 257.44H1037.6M966.2 253.59V261.29M1037.6 253.59V261.29" stroke-width="1" fill="none"/>
<path d="M996.45 257.44H1017.15" stroke-width="2.9" stroke-linecap="round" fill="none"/>
<circle cx="1006.4" cy="257.44" r="3.1" stroke="none"/>
</g>
<g stroke="#0072B2" fill="#0072B2">
<path d="M893.4 270.51H1047.4M893.4 266.66V274.36M1047.4 266.66V274.36" stroke-width="1" fill="none"/>
<path d="M979.05 270.51H1028.55" stroke-width="2.9" stroke-linecap="round" fill="none"/>
<circle cx="1012.2" cy="270.51" r="3.1" stroke="none"/>
</g>
<g stroke="#0072B2" fill="#0072B2">
<path d="M925.4 283.58H1053M925.4 279.73V287.43M1053 279.73V287.43" stroke-width="1" fill="none"/>
<path d="M967.65 283.58H1034.55" stroke-width="2.9" stroke-linecap="round" fill="none"/>
<circle cx="1006.4" cy="283.58" r="3.1" stroke="none"/>
</g>
<g stroke="#0072B2" fill="#0072B2">
<path d="M954.4 296.66H1029.6M954.4 292.81V300.51M1029.6 292.81V300.51" stroke-width="1" fill="none"/>
<path d="M984.85 296.66H1011.15" stroke-width="2.9" stroke-linecap="round" fill="none"/>
<circle cx="1000.6" cy="296.66" r="3.1" stroke="none"/>
</g>
<path d="M879.2 304.5V311.7M937 304.5V311.7M995 304.5V311.7M1052.8 304.5V311.7" stroke="#000" stroke-width="1" fill="none"/>
<text x="879.2" y="328" text-anchor="middle" font-size="12">60</text>
<text x="937" y="328" text-anchor="middle" font-size="12">70</text>
<text x="995" y="328" text-anchor="middle" font-size="12">80</text>
<text x="1052.8" y="328" text-anchor="middle" font-size="12">90</text>
<rect x="841.6" y="35.5" width="237.7" height="269" fill="none" stroke="#000" stroke-width="1"/>
<path d="M841.6 53.5H1079.3" stroke="#000" stroke-width="1"/>
<text x="121" y="365" text-anchor="end" font-size="12" textLength="91.45" lengthAdjust="spacing">SWANSONLAKE</text>
<text x="1086" y="365" font-size="12" textLength="91.45" lengthAdjust="spacing">SWANSONLAKE</text>
<text x="121" y="378" text-anchor="end" font-size="12" textLength="69.61" lengthAdjust="spacing" font-weight="bold">WOODHALL</text>
<text x="1086" y="378" font-size="12" textLength="69.61" lengthAdjust="spacing" font-weight="bold">WOODHALL</text>
<text x="121" y="391" text-anchor="end" font-size="12" textLength="51.12" lengthAdjust="spacing">ROGERT</text>
<text x="1086" y="391" font-size="12" textLength="51.12" lengthAdjust="spacing">ROGERT</text>
<text x="121" y="404" text-anchor="end" font-size="12" textLength="77.71" lengthAdjust="spacing">BUSHVALLEY</text>
<text x="1086" y="404" font-size="12" textLength="77.71" lengthAdjust="spacing">BUSHVALLEY</text>
<text x="121" y="417" text-anchor="end" font-size="12" textLength="61.24" lengthAdjust="spacing">HAPGOOD</text>
<text x="1086" y="417" font-size="12" textLength="61.24" lengthAdjust="spacing">HAPGOOD</text>
<text x="121" y="430" text-anchor="end" font-size="12" textLength="46.87" lengthAdjust="spacing">GOTHIC</text>
<text x="1086" y="430" font-size="12" textLength="46.87" lengthAdjust="spacing">GOTHIC</text>
<text x="121" y="444" text-anchor="end" font-size="12" textLength="91.59" lengthAdjust="spacing">BEACHCANYON</text>
<text x="1086" y="444" font-size="12" textLength="91.59" lengthAdjust="spacing">BEACHCANYON</text>
<text x="121" y="457" text-anchor="end" font-size="12" textLength="60.47" lengthAdjust="spacing">BISCHOFF</text>
<text x="1086" y="457" font-size="12" textLength="60.47" lengthAdjust="spacing">BISCHOFF</text>
<text x="121" y="470" text-anchor="end" font-size="12" textLength="41.54" lengthAdjust="spacing">SEBUD</text>
<text x="1086" y="470" font-size="12" textLength="41.54" lengthAdjust="spacing">SEBUD</text>
<text x="121" y="483" text-anchor="end" font-size="12" textLength="78.2" lengthAdjust="spacing">WOODHURST</text>
<text x="1086" y="483" font-size="12" textLength="78.2" lengthAdjust="spacing">WOODHURST</text>
<text x="121" y="496" text-anchor="end" font-size="12" textLength="42.19" lengthAdjust="spacing">ODARK</text>
<text x="1086" y="496" font-size="12" textLength="42.19" lengthAdjust="spacing">ODARK</text>
<text x="121" y="509" text-anchor="end" font-size="12" textLength="55.27" lengthAdjust="spacing">BAVDARK</text>
<text x="1086" y="509" font-size="12" textLength="55.27" lengthAdjust="spacing">BAVDARK</text>
<text x="121" y="522" text-anchor="end" font-size="12" textLength="79.65" lengthAdjust="spacing">PHILIPSBURG</text>
<text x="1086" y="522" font-size="12" textLength="79.65" lengthAdjust="spacing">PHILIPSBURG</text>
<text x="121" y="535" text-anchor="end" font-size="12" textLength="29.29" lengthAdjust="spacing">POIN</text>
<text x="1086" y="535" font-size="12" textLength="29.29" lengthAdjust="spacing">POIN</text>
<text x="121" y="548" text-anchor="end" font-size="12" textLength="46.67" lengthAdjust="spacing">NIEMAN</text>
<text x="1086" y="548" font-size="12" textLength="46.67" lengthAdjust="spacing">NIEMAN</text>
<text x="121" y="561" text-anchor="end" font-size="12" textLength="57.47" lengthAdjust="spacing">BANGTAIL</text>
<text x="1086" y="561" font-size="12" textLength="57.47" lengthAdjust="spacing">BANGTAIL</text>
<text x="121" y="574" text-anchor="end" font-size="12" textLength="64.21" lengthAdjust="spacing">SPANPEAK</text>
<text x="1086" y="574" font-size="12" textLength="64.21" lengthAdjust="spacing">SPANPEAK</text>
<text x="121" y="587" text-anchor="end" font-size="12" textLength="43.79" lengthAdjust="spacing">BLAINE</text>
<text x="1086" y="587" font-size="12" textLength="43.79" lengthAdjust="spacing">BLAINE</text>
<text x="121" y="600" text-anchor="end" font-size="12" textLength="73.97" lengthAdjust="spacing">BAIRSPRING</text>
<text x="1086" y="600" font-size="12" textLength="73.97" lengthAdjust="spacing">BAIRSPRING</text>
<rect x="128.5" y="334.5" width="237.7" height="18" fill="#f2f2f2"/>
<text x="201.9" y="348" font-size="12" textLength="90.69" lengthAdjust="spacing">Frost-Free Days</text>
<path d="M128.5 360.64H366.2M128.5 373.72H366.2M128.5 386.79H366.2M128.5 399.86H366.2M128.5 412.94H366.2M128.5 426.01H366.2M128.5 439.08H366.2M128.5 452.15H366.2M128.5 465.23H366.2M128.5 478.3H366.2M128.5 491.37H366.2M128.5 504.45H366.2M128.5 517.52H366.2M128.5 530.59H366.2M128.5 543.66H366.2M128.5 556.74H366.2M128.5 569.81H366.2M128.5 582.88H366.2M128.5 595.96H366.2M142.6 603.5V352.5M201.4 603.5V352.5M260.4 603.5V352.5M319 603.5V352.5" stroke="#afafaf" stroke-width="0.95" stroke-dasharray="0.95 2.8" stroke-linecap="round" fill="none"/>
<g stroke="#0072B2" fill="#0072B2">
<path d="M254.4 360.64H350M254.4 356.79V364.49M350 356.79V364.49" stroke-width="1" fill="none"/>
<path d="M273.65 360.64H311.95" stroke-width="2.9" stroke-linecap="round" fill="none"/>
<circle cx="289.8" cy="360.64" r="3.1" stroke="none"/>
</g>
<g stroke="#B22222" fill="#B22222">
<path d="M198.4 373.72H328M198.4 369.87V377.57M328 369.87V377.57" stroke-width="1" fill="none"/>
<path d="M235.45 373.72H297.15" stroke-width="2.9" stroke-linecap="round" fill="none"/>
<circle cx="269" cy="373.72" r="3.1" stroke="none"/>
</g>
<g stroke="#0072B2" fill="#0072B2">
<path d="M201.4 386.79H342.4M201.4 382.94V390.64M342.4 382.94V390.64" stroke-width="1" fill="none"/>
<path d="M241.05 386.79H303.15" stroke-width="2.9" stroke-linecap="round" fill="none"/>
<circle cx="269.2" cy="386.79" r="3.1" stroke="none"/>
</g>
<g stroke="#0072B2" fill="#0072B2">
<path d="M198.4 399.86H345.4M198.4 396.01V403.71M345.4 396.01V403.71" stroke-width="1" fill="none"/>
<path d="M238.05 399.86H303.15" stroke-width="2.9" stroke-linecap="round" fill="none"/>
<circle cx="266.2" cy="399.86" r="3.1" stroke="none"/>
</g>
<g stroke="#0072B2" fill="#0072B2">
<path d="M189.8 412.94H319.4M189.8 409.09V416.79M319.4 409.09V416.79" stroke-width="1" fill="none"/>
<path d="M223.45 412.94H270.95" stroke-width="2.9" stroke-linecap="round" fill="none"/>
<circle cx="245.6" cy="412.94" r="3.1" stroke="none"/>
</g>
<g stroke="#0072B2" fill="#0072B2">
<path d="M210.4 426.01H310.4M210.4 422.16V429.86M310.4 422.16V429.86" stroke-width="1" fill="none"/>
<path d="M238.05 426.01H279.55" stroke-width="2.9" stroke-linecap="round" fill="none"/>
<circle cx="260.2" cy="426.01" r="3.1" stroke="none"/>
</g>
<g stroke="#0072B2" fill="#0072B2">
<path d="M245.6 439.08H301.6M245.6 435.23V442.93M301.6 435.23V442.93" stroke-width="1" fill="none"/>
<path d="M258.85 439.08H285.55" stroke-width="2.9" stroke-linecap="round" fill="none"/>
<circle cx="275" cy="439.08" r="3.1" stroke="none"/>
</g>
<g stroke="#0072B2" fill="#0072B2">
<path d="M198.4 452.15H255.4M198.4 448.3V456M255.4 448.3V456" stroke-width="1" fill="none"/>
<path d="M217.65 452.15H238.55" stroke-width="2.9" stroke-linecap="round" fill="none"/>
<circle cx="228.2" cy="452.15" r="3.1" stroke="none"/>
</g>
<g stroke="#0072B2" fill="#0072B2">
<path d="M163.4 465.23H304.4M163.4 461.38V469.08M304.4 461.38V469.08" stroke-width="1" fill="none"/>
<path d="M185.45 465.23H226.55" stroke-width="2.9" stroke-linecap="round" fill="none"/>
<circle cx="204.6" cy="465.23" r="3.1" stroke="none"/>
</g>
<g stroke="#0072B2" fill="#0072B2">
<path d="M172.2 478.3H328M172.2 474.45V482.15M328 474.45V482.15" stroke-width="1" fill="none"/>
<path d="M208.85 478.3H247.55" stroke-width="2.9" stroke-linecap="round" fill="none"/>
<circle cx="228.2" cy="478.3" r="3.1" stroke="none"/>
</g>
<g stroke="#0072B2" fill="#0072B2">
<path d="M145.6 491.37H337.4M145.6 487.52V495.22M337.4 487.52V495.22" stroke-width="1" fill="none"/>
<path d="M200.05 491.37H268.55" stroke-width="2.9" stroke-linecap="round" fill="none"/>
<circle cx="228.2" cy="491.37" r="3.1" stroke="none"/>
</g>
<g stroke="#0072B2" fill="#0072B2">
<path d="M142.6 504.45H301.6M142.6 500.6V508.3M301.6 500.6V508.3" stroke-width="1" fill="none"/>
<path d="M179.65 504.45H253.15" stroke-width="2.9" stroke-linecap="round" fill="none"/>
<circle cx="222.2" cy="504.45" r="3.1" stroke="none"/>
</g>
<g stroke="#0072B2" fill="#0072B2">
<path d="M160.4 517.52H262.6M160.4 513.67V521.37M262.6 513.67V521.37" stroke-width="1" fill="none"/>
<path d="M200.05 517.52H232.55" stroke-width="2.9" stroke-linecap="round" fill="none"/>
<circle cx="216.4" cy="517.52" r="3.1" stroke="none"/>
</g>
<g stroke="#0072B2" fill="#0072B2">
<path d="M175.2 530.59H304.4M175.2 526.74V534.44M304.4 526.74V534.44" stroke-width="1" fill="none"/>
<path d="M206.05 530.59H247.55" stroke-width="2.9" stroke-linecap="round" fill="none"/>
<circle cx="225" cy="530.59" r="3.1" stroke="none"/>
</g>
<g stroke="#0072B2" fill="#0072B2">
<path d="M181 543.66H301.6M181 539.81V547.51M301.6 539.81V547.51" stroke-width="1" fill="none"/>
<path d="M202.85 543.66H244.55" stroke-width="2.9" stroke-linecap="round" fill="none"/>
<circle cx="222.2" cy="543.66" r="3.1" stroke="none"/>
</g>
<g stroke="#0072B2" fill="#0072B2">
<path d="M192.6 556.74H295.6M192.6 552.89V560.59M295.6 552.89V560.59" stroke-width="1" fill="none"/>
<path d="M211.85 556.74H247.55" stroke-width="2.9" stroke-linecap="round" fill="none"/>
<circle cx="228.2" cy="556.74" r="3.1" stroke="none"/>
</g>
<g stroke="#0072B2" fill="#0072B2">
<path d="M172.2 569.81H319.2M172.2 565.96V573.66M319.2 565.96V573.66" stroke-width="1" fill="none"/>
<path d="M202.85 569.81H268.15" stroke-width="2.9" stroke-linecap="round" fill="none"/>
<circle cx="223.6" cy="569.81" r="3.1" stroke="none"/>
</g>
<g stroke="#0072B2" fill="#0072B2">
<path d="M195.6 582.88H351.4M195.6 579.03V586.73M351.4 579.03V586.73" stroke-width="1" fill="none"/>
<path d="M229.45 582.88H300.35" stroke-width="2.9" stroke-linecap="round" fill="none"/>
<circle cx="245.6" cy="582.88" r="3.1" stroke="none"/>
</g>
<g stroke="#0072B2" fill="#0072B2">
<path d="M186 595.96H276M186 592.11V599.81M276 592.11V599.81" stroke-width="1" fill="none"/>
<path d="M213.05 595.96H253.55" stroke-width="2.9" stroke-linecap="round" fill="none"/>
<circle cx="234" cy="595.96" r="3.1" stroke="none"/>
</g>
<path d="M142.6 603.5V610.7M201.4 603.5V610.7M260.4 603.5V610.7M319 603.5V610.7" stroke="#000" stroke-width="1" fill="none"/>
<text x="142.6" y="627" text-anchor="middle" font-size="12">60</text>
<text x="201.4" y="627" text-anchor="middle" font-size="12">80</text>
<text x="260.4" y="627" text-anchor="middle" font-size="12">100</text>
<text x="319" y="627" text-anchor="middle" font-size="12">120</text>
<rect x="128.5" y="334.5" width="237.7" height="269" fill="none" stroke="#000" stroke-width="1"/>
<path d="M128.5 352.5H366.2" stroke="#000" stroke-width="1"/>
<rect x="366.2" y="334.5" width="237.7" height="18" fill="#f2f2f2"/>
<text x="409.7" y="348" font-size="12" textLength="151.04" lengthAdjust="spacing">Growing Degree Days (°C)</text>
<path d="M366.2 360.64H603.9M366.2 373.72H603.9M366.2 386.79H603.9M366.2 399.86H603.9M366.2 412.94H603.9M366.2 426.01H603.9M366.2 439.08H603.9M366.2 452.15H603.9M366.2 465.23H603.9M366.2 478.3H603.9M366.2 491.37H603.9M366.2 504.45H603.9M366.2 517.52H603.9M366.2 530.59H603.9M366.2 543.66H603.9M366.2 556.74H603.9M366.2 569.81H603.9M366.2 582.88H603.9M366.2 595.96H603.9M406.4 603.5V352.5M451.6 603.5V352.5M497 603.5V352.5M542.2 603.5V352.5M587.8 603.5V352.5" stroke="#afafaf" stroke-width="0.95" stroke-dasharray="0.95 2.8" stroke-linecap="round" fill="none"/>
<g stroke="#0072B2" fill="#0072B2">
<path d="M456.6 360.64H568.6M456.6 356.79V364.49M568.6 356.79V364.49" stroke-width="1" fill="none"/>
<path d="M492.45 360.64H541.15" stroke-width="2.9" stroke-linecap="round" fill="none"/>
<circle cx="520.8" cy="360.64" r="3.1" stroke="none"/>
</g>
<g stroke="#B22222" fill="#B22222">
<path d="M424 373.72H537.2M424 369.87V377.57M537.2 369.87V377.57" stroke-width="1" fill="none"/>
<path d="M457.45 373.72H495.15" stroke-width="2.9" stroke-linecap="round" fill="none"/>
<circle cx="475.4" cy="373.72" r="3.1" stroke="none"/>
</g>
<g stroke="#0072B2" fill="#0072B2">
<path d="M418 386.79H555M418 382.94V390.64M555 382.94V390.64" stroke-width="1" fill="none"/>
<path d="M460.05 386.79H499.55" stroke-width="2.9" stroke-linecap="round" fill="none"/>
<circle cx="479.4" cy="386.79" r="3.1" stroke="none"/>
</g>
<g stroke="#0072B2" fill="#0072B2">
<path d="M390.4 399.86H589.4M390.4 396.01V403.71M589.4 396.01V403.71" stroke-width="1" fill="none"/>
<path d="M436.45 399.86H500.55" stroke-width="2.9" stroke-linecap="round" fill="none"/>
<circle cx="472.8" cy="399.86" r="3.1" stroke="none"/>
</g>
<g stroke="#0072B2" fill="#0072B2">
<path d="M411 412.94H547.4M411 409.09V416.79M547.4 409.09V416.79" stroke-width="1" fill="none"/>
<path d="M451.45 412.94H510.95" stroke-width="2.9" stroke-linecap="round" fill="none"/>
<circle cx="482.4" cy="412.94" r="3.1" stroke="none"/>
</g>
<g stroke="#0072B2" fill="#0072B2">
<path d="M405.8 426.01H536.4M405.8 422.16V429.86M536.4 422.16V429.86" stroke-width="1" fill="none"/>
<path d="M451.45 426.01H494.95" stroke-width="2.9" stroke-linecap="round" fill="none"/>
<circle cx="472.2" cy="426.01" r="3.1" stroke="none"/>
</g>
<g stroke="#0072B2" fill="#0072B2">
<path d="M436.8 439.08H524.2M436.8 435.23V442.93M524.2 435.23V442.93" stroke-width="1" fill="none"/>
<path d="M467.45 439.08H502.55" stroke-width="2.9" stroke-linecap="round" fill="none"/>
<circle cx="479.4" cy="439.08" r="3.1" stroke="none"/>
</g>
<g stroke="#0072B2" fill="#0072B2">
<path d="M443.6 452.15H522.6M443.6 448.3V456M522.6 448.3V456" stroke-width="1" fill="none"/>
<path d="M468.85 452.15H501.15" stroke-width="2.9" stroke-linecap="round" fill="none"/>
<circle cx="486.2" cy="452.15" r="3.1" stroke="none"/>
</g>
<g stroke="#0072B2" fill="#0072B2">
<path d="M394.6 465.23H506.2M394.6 461.38V469.08M506.2 461.38V469.08" stroke-width="1" fill="none"/>
<path d="M430.05 465.23H470.15" stroke-width="2.9" stroke-linecap="round" fill="none"/>
<circle cx="449.8" cy="465.23" r="3.1" stroke="none"/>
</g>
<g stroke="#0072B2" fill="#0072B2">
<path d="M397.6 478.3H526.2M397.6 474.45V482.15M526.2 474.45V482.15" stroke-width="1" fill="none"/>
<path d="M439.45 478.3H475.55" stroke-width="2.9" stroke-linecap="round" fill="none"/>
<circle cx="458" cy="478.3" r="3.1" stroke="none"/>
</g>
<g stroke="#0072B2" fill="#0072B2">
<path d="M407.8 491.37H535.6M407.8 487.52V495.22M535.6 487.52V495.22" stroke-width="1" fill="none"/>
<path d="M435.85 491.37H493.15" stroke-width="2.9" stroke-linecap="round" fill="none"/>
<circle cx="459.4" cy="491.37" r="3.1" stroke="none"/>
</g>
<g stroke="#0072B2" fill="#0072B2">
<path d="M400.6 504.45H514M400.6 500.6V508.3M514 500.6V508.3" stroke-width="1" fill="none"/>
<path d="M444.85 504.45H488.55" stroke-width="2.9" stroke-linecap="round" fill="none"/>
<circle cx="469" cy="504.45" r="3.1" stroke="none"/>
</g>
<g stroke="#0072B2" fill="#0072B2">
<path d="M419.4 517.52H501.6M419.4 513.67V521.37M501.6 513.67V521.37" stroke-width="1" fill="none"/>
<path d="M448.85 517.52H479.95" stroke-width="2.9" stroke-linecap="round" fill="none"/>
<circle cx="465" cy="517.52" r="3.1" stroke="none"/>
</g>
<g stroke="#0072B2" fill="#0072B2">
<path d="M393.4 530.59H513.4M393.4 526.74V534.44M513.4 526.74V534.44" stroke-width="1" fill="none"/>
<path d="M438.85 530.59H479.95" stroke-width="2.9" stroke-linecap="round" fill="none"/>
<circle cx="462.2" cy="530.59" r="3.1" stroke="none"/>
</g>
<g stroke="#0072B2" fill="#0072B2">
<path d="M412 543.66H499.4M412 539.81V547.51M499.4 539.81V547.51" stroke-width="1" fill="none"/>
<path d="M439.65 543.66H476.15" stroke-width="2.9" stroke-linecap="round" fill="none"/>
<circle cx="459" cy="543.66" r="3.1" stroke="none"/>
</g>
<g stroke="#0072B2" fill="#0072B2">
<path d="M441.4 556.74H525.4M441.4 552.89V560.59M525.4 552.89V560.59" stroke-width="1" fill="none"/>
<path d="M464.45 556.74H492.55" stroke-width="2.9" stroke-linecap="round" fill="none"/>
<circle cx="477.4" cy="556.74" r="3.1" stroke="none"/>
</g>
<g stroke="#0072B2" fill="#0072B2">
<path d="M380.4 569.81H522.6M380.4 565.96V573.66M522.6 565.96V573.66" stroke-width="1" fill="none"/>
<path d="M448.45 569.81H498.55" stroke-width="2.9" stroke-linecap="round" fill="none"/>
<circle cx="482.4" cy="569.81" r="3.1" stroke="none"/>
</g>
<g stroke="#0072B2" fill="#0072B2">
<path d="M427.4 582.88H554.6M427.4 579.03V586.73M554.6 579.03V586.73" stroke-width="1" fill="none"/>
<path d="M455.45 582.88H506.15" stroke-width="2.9" stroke-linecap="round" fill="none"/>
<circle cx="474" cy="582.88" r="3.1" stroke="none"/>
</g>
<g stroke="#0072B2" fill="#0072B2">
<path d="M435.4 595.96H499.6M435.4 592.11V599.81M499.6 592.11V599.81" stroke-width="1" fill="none"/>
<path d="M457.45 595.96H480.55" stroke-width="2.9" stroke-linecap="round" fill="none"/>
<circle cx="470.6" cy="595.96" r="3.1" stroke="none"/>
</g>
<path d="M406.4 603.5V610.7M451.6 603.5V610.7M497 603.5V610.7M542.2 603.5V610.7M587.8 603.5V610.7" stroke="#000" stroke-width="1" fill="none"/>
<text x="406.4" y="627" text-anchor="middle" font-size="12">600</text>
<text x="451.6" y="627" text-anchor="middle" font-size="12">800</text>
<text x="497" y="627" text-anchor="middle" font-size="12">1000</text>
<text x="542.2" y="627" text-anchor="middle" font-size="12">1200</text>
<text x="587.8" y="627" text-anchor="middle" font-size="12">1400</text>
<rect x="366.2" y="334.5" width="237.7" height="269" fill="none" stroke="#000" stroke-width="1"/>
<path d="M366.2 352.5H603.9" stroke="#000" stroke-width="1"/>
<rect x="603.9" y="334.5" width="237.7" height="18" fill="#f2f2f2"/>
<text x="624.9" y="348" font-size="12" textLength="195.67" lengthAdjust="spacing">Mean Annual Air Temperature (°C)</text>
<path d="M603.9 360.64H841.6M603.9 373.72H841.6M603.9 386.79H841.6M603.9 399.86H841.6M603.9 412.94H841.6M603.9 426.01H841.6M603.9 439.08H841.6M603.9 452.15H841.6M603.9 465.23H841.6M603.9 478.3H841.6M603.9 491.37H841.6M603.9 504.45H841.6M603.9 517.52H841.6M603.9 530.59H841.6M603.9 543.66H841.6M603.9 556.74H841.6M603.9 569.81H841.6M603.9 582.88H841.6M603.9 595.96H841.6M658 603.5V352.5M716.4 603.5V352.5M775 603.5V352.5M833.4 603.5V352.5" stroke="#afafaf" stroke-width="0.95" stroke-dasharray="0.95 2.8" stroke-linecap="round" fill="none"/>
<g stroke="#0072B2" fill="#0072B2">
<path d="M713.4 360.64H806M713.4 356.79V364.49M806 356.79V364.49" stroke-width="1" fill="none"/>
<path d="M739.85 360.64H778.55" stroke-width="2.9" stroke-linecap="round" fill="none"/>
<circle cx="765.2" cy="360.64" r="3.1" stroke="none"/>
</g>
<g stroke="#B22222" fill="#B22222">
<path d="M674.4 373.72H779.2M674.4 369.87V377.57M779.2 369.87V377.57" stroke-width="1" fill="none"/>
<path d="M703.05 373.72H748.15" stroke-width="2.9" stroke-linecap="round" fill="none"/>
<circle cx="726" cy="373.72" r="3.1" stroke="none"/>
</g>
<g stroke="#0072B2" fill="#0072B2">
<path d="M662 386.79H795.8M662 382.94V390.64M795.8 382.94V390.64" stroke-width="1" fill="none"/>
<path d="M697.85 386.79H752.95" stroke-width="2.9" stroke-linecap="round" fill="none"/>
<circle cx="725.4" cy="386.79" r="3.1" stroke="none"/>
</g>
<g stroke="#0072B2" fill="#0072B2">
<path d="M632.6 399.86H826.6M632.6 396.01V403.71M826.6 396.01V403.71" stroke-width="1" fill="none"/>
<path d="M685.45 399.86H748.55" stroke-width="2.9" stroke-linecap="round" fill="none"/>
<circle cx="716.4" cy="399.86" r="3.1" stroke="none"/>
</g>
<g stroke="#0072B2" fill="#0072B2">
<path d="M657.8 412.94H802M657.8 409.09V416.79M802 409.09V416.79" stroke-width="1" fill="none"/>
<path d="M694.85 412.94H766.95" stroke-width="2.9" stroke-linecap="round" fill="none"/>
<circle cx="736.4" cy="412.94" r="3.1" stroke="none"/>
</g>
<g stroke="#0072B2" fill="#0072B2">
<path d="M652.4 426.01H769M652.4 422.16V429.86M769 422.16V429.86" stroke-width="1" fill="none"/>
<path d="M690.45 426.01H737.55" stroke-width="2.9" stroke-linecap="round" fill="none"/>
<circle cx="717" cy="426.01" r="3.1" stroke="none"/>
</g>
<g stroke="#0072B2" fill="#0072B2">
<path d="M697 439.08H766.6M697 435.23V442.93M766.6 435.23V442.93" stroke-width="1" fill="none"/>
<path d="M719.05 439.08H748.55" stroke-width="2.9" stroke-linecap="round" fill="none"/>
<circle cx="732.4" cy="439.08" r="3.1" stroke="none"/>
</g>
<g stroke="#0072B2" fill="#0072B2">
<path d="M687.2 452.15H734M687.2 448.3V456M734 448.3V456" stroke-width="1" fill="none"/>
<path d="M710.45 452.15H722.75" stroke-width="2.9" stroke-linecap="round" fill="none"/>
<circle cx="716.6" cy="452.15" r="3.1" stroke="none"/>
</g>
<g stroke="#0072B2" fill="#0072B2">
<path d="M643 465.23H746.4M643 461.38V469.08M746.4 461.38V469.08" stroke-width="1" fill="none"/>
<path d="M669.85 465.23H704.15" stroke-width="2.9" stroke-linecap="round" fill="none"/>
<circle cx="683" cy="465.23" r="3.1" stroke="none"/>
</g>
<g stroke="#0072B2" fill="#0072B2">
<path d="M641.4 478.3H799M641.4 474.45V482.15M799 474.45V482.15" stroke-width="1" fill="none"/>
<path d="M683.45 478.3H718.95" stroke-width="2.9" stroke-linecap="round" fill="none"/>
<circle cx="702" cy="478.3" r="3.1" stroke="none"/>
</g>
<g stroke="#0072B2" fill="#0072B2">
<path d="M621.8 491.37H791.4M621.8 487.52V495.22M791.4 487.52V495.22" stroke-width="1" fill="none"/>
<path d="M678.85 491.37H729.15" stroke-width="2.9" stroke-linecap="round" fill="none"/>
<circle cx="709.6" cy="491.37" r="3.1" stroke="none"/>
</g>
<g stroke="#0072B2" fill="#0072B2">
<path d="M618.4 504.45H756.4M618.4 500.6V508.3M756.4 500.6V508.3" stroke-width="1" fill="none"/>
<path d="M658.85 504.45H723.15" stroke-width="2.9" stroke-linecap="round" fill="none"/>
<circle cx="706.2" cy="504.45" r="3.1" stroke="none"/>
</g>
<g stroke="#0072B2" fill="#0072B2">
<path d="M657.4 517.52H727.8M657.4 513.67V521.37M727.8 513.67V521.37" stroke-width="1" fill="none"/>
<path d="M676.45 517.52H709.95" stroke-width="2.9" stroke-linecap="round" fill="none"/>
<circle cx="694" cy="517.52" r="3.1" stroke="none"/>
</g>
<g stroke="#0072B2" fill="#0072B2">
<path d="M641.8 530.59H757.8M641.8 526.74V534.44M757.8 526.74V534.44" stroke-width="1" fill="none"/>
<path d="M680.85 530.59H721.55" stroke-width="2.9" stroke-linecap="round" fill="none"/>
<circle cx="704.6" cy="530.59" r="3.1" stroke="none"/>
</g>
<g stroke="#0072B2" fill="#0072B2">
<path d="M657 543.66H748.4M657 539.81V547.51M748.4 539.81V547.51" stroke-width="1" fill="none"/>
<path d="M680.85 543.66H717.95" stroke-width="2.9" stroke-linecap="round" fill="none"/>
<circle cx="701.4" cy="543.66" r="3.1" stroke="none"/>
</g>
<g stroke="#0072B2" fill="#0072B2">
<path d="M686.2 556.74H765.4M686.2 552.89V560.59M765.4 552.89V560.59" stroke-width="1" fill="none"/>
<path d="M711.85 556.74H731.55" stroke-width="2.9" stroke-linecap="round" fill="none"/>
<circle cx="721.4" cy="556.74" r="3.1" stroke="none"/>
</g>
<g stroke="#0072B2" fill="#0072B2">
<path d="M620.4 569.81H769.4M620.4 565.96V573.66M769.4 565.96V573.66" stroke-width="1" fill="none"/>
<path d="M691.45 569.81H744.15" stroke-width="2.9" stroke-linecap="round" fill="none"/>
<circle cx="723.4" cy="569.81" r="3.1" stroke="none"/>
</g>
<g stroke="#0072B2" fill="#0072B2">
<path d="M666 582.88H798.4M666 579.03V586.73M798.4 579.03V586.73" stroke-width="1" fill="none"/>
<path d="M699.85 582.88H751.15" stroke-width="2.9" stroke-linecap="round" fill="none"/>
<circle cx="719" cy="582.88" r="3.1" stroke="none"/>
</g>
<g stroke="#0072B2" fill="#0072B2">
<path d="M673.4 595.96H738.6M673.4 592.11V599.81M738.6 592.11V599.81" stroke-width="1" fill="none"/>
<path d="M696.05 595.96H722.95" stroke-width="2.9" stroke-linecap="round" fill="none"/>
<circle cx="713.2" cy="595.96" r="3.1" stroke="none"/>
</g>
<path d="M658 603.5V610.7M716.4 603.5V610.7M775 603.5V610.7M833.4 603.5V610.7" stroke="#000" stroke-width="1" fill="none"/>
<text x="658" y="627" text-anchor="middle" font-size="12">2</text>
<text x="716.4" y="627" text-anchor="middle" font-size="12">4</text>
<text x="775" y="627" text-anchor="middle" font-size="12">6</text>
<text x="833.4" y="627" text-anchor="middle" font-size="12">8</text>
<rect x="603.9" y="334.5" width="237.7" height="269" fill="none" stroke="#000" stroke-width="1"/>
<path d="M603.9 352.5H841.6" stroke="#000" stroke-width="1"/>
<rect x="841.6" y="334.5" width="237.7" height="18" fill="#f2f2f2"/>
<text x="868.7" y="348" font-size="12" textLength="182.95" lengthAdjust="spacing">Mean Annual Precipitation (mm)</text>
<path d="M841.6 360.64H1079.3M841.6 373.72H1079.3M841.6 386.79H1079.3M841.6 399.86H1079.3M841.6 412.94H1079.3M841.6 426.01H1079.3M841.6 439.08H1079.3M841.6 452.15H1079.3M841.6 465.23H1079.3M841.6 478.3H1079.3M841.6 491.37H1079.3M841.6 504.45H1079.3M841.6 517.52H1079.3M841.6 530.59H1079.3M841.6 543.66H1079.3M841.6 556.74H1079.3M841.6 569.81H1079.3M841.6 582.88H1079.3M841.6 595.96H1079.3M887.6 603.5V352.5M950.6 603.5V352.5M1013.6 603.5V352.5M1076.6 603.5V352.5" stroke="#afafaf" stroke-width="0.95" stroke-dasharray="0.95 2.8" stroke-linecap="round" fill="none"/>
<g stroke="#0072B2" fill="#0072B2">
<path d="M889.6 360.64H994.2M889.6 356.79V364.49M994.2 356.79V364.49" stroke-width="1" fill="none"/>
<path d="M914.05 360.64H955.55" stroke-width="2.9" stroke-linecap="round" fill="none"/>
<circle cx="934" cy="360.64" r="3.1" stroke="none"/>
</g>
<g stroke="#B22222" fill="#B22222">
<path d="M883.6 373.72H990.4M883.6 369.87V377.57M990.4 369.87V377.57" stroke-width="1" fill="none"/>
<path d="M909.65 373.72H954.15" stroke-width="2.9" stroke-linecap="round" fill="none"/>
<circle cx="932.2" cy="373.72" r="3.1" stroke="none"/>
</g>
<g stroke="#0072B2" fill="#0072B2">
<path d="M878.4 386.79H1017.6M878.4 382.94V390.64M1017.6 382.94V390.64" stroke-width="1" fill="none"/>
<path d="M903.45 386.79H949.95" stroke-width="2.9" stroke-linecap="round" fill="none"/>
<circle cx="924" cy="386.79" r="3.1" stroke="none"/>
</g>
<g stroke="#0072B2" fill="#0072B2">
<path d="M874.4 399.86H1054.6M874.4 396.01V403.71M1054.6 396.01V403.71" stroke-width="1" fill="none"/>
<path d="M893.85 399.86H960.55" stroke-width="2.9" stroke-linecap="round" fill="none"/>
<circle cx="916.2" cy="399.86" r="3.1" stroke="none"/>
</g>
<g stroke="#0072B2" fill="#0072B2">
<path d="M871.2 412.94H1039.6M871.2 409.09V416.79M1039.6 409.09V416.79" stroke-width="1" fill="none"/>
<path d="M911.45 412.94H990.15" stroke-width="2.9" stroke-linecap="round" fill="none"/>
<circle cx="952.8" cy="412.94" r="3.1" stroke="none"/>
</g>
<g stroke="#0072B2" fill="#0072B2">
<path d="M893.4 426.01H1034.4M893.4 422.16V429.86M1034.4 422.16V429.86" stroke-width="1" fill="none"/>
<path d="M933.65 426.01H980.55" stroke-width="2.9" stroke-linecap="round" fill="none"/>
<circle cx="957.4" cy="426.01" r="3.1" stroke="none"/>
</g>
<g stroke="#0072B2" fill="#0072B2">
<path d="M925.6 439.08H1016.4M925.6 435.23V442.93M1016.4 435.23V442.93" stroke-width="1" fill="none"/>
<path d="M950.85 439.08H979.55" stroke-width="2.9" stroke-linecap="round" fill="none"/>
<circle cx="963.4" cy="439.08" r="3.1" stroke="none"/>
</g>
<g stroke="#0072B2" fill="#0072B2">
<path d="M907.4 452.15H1029.4M907.4 448.3V456M1029.4 448.3V456" stroke-width="1" fill="none"/>
<path d="M944.85 452.15H985.55" stroke-width="2.9" stroke-linecap="round" fill="none"/>
<circle cx="965.2" cy="452.15" r="3.1" stroke="none"/>
</g>
<g stroke="#0072B2" fill="#0072B2">
<path d="M877.8 465.23H1021.6M877.8 461.38V469.08M1021.6 461.38V469.08" stroke-width="1" fill="none"/>
<path d="M908.85 465.23H961.95" stroke-width="2.9" stroke-linecap="round" fill="none"/>
<circle cx="932.8" cy="465.23" r="3.1" stroke="none"/>
</g>
<g stroke="#0072B2" fill="#0072B2">
<path d="M901.4 478.3H1064.4M901.4 474.45V482.15M1064.4 474.45V482.15" stroke-width="1" fill="none"/>
<path d="M932.05 478.3H1004.75" stroke-width="2.9" stroke-linecap="round" fill="none"/>
<circle cx="958.2" cy="478.3" r="3.1" stroke="none"/>
</g>
<g stroke="#0072B2" fill="#0072B2">
<path d="M894.4 491.37H1061.4M894.4 487.52V495.22M1061.4 487.52V495.22" stroke-width="1" fill="none"/>
<path d="M908.85 491.37H960.75" stroke-width="2.9" stroke-linecap="round" fill="none"/>
<circle cx="937" cy="491.37" r="3.1" stroke="none"/>
</g>
<g stroke="#0072B2" fill="#0072B2">
<path d="M891.2 504.45H1017M891.2 500.6V508.3M1017 500.6V508.3" stroke-width="1" fill="none"/>
<path d="M913.45 504.45H959.15" stroke-width="2.9" stroke-linecap="round" fill="none"/>
<circle cx="934" cy="504.45" r="3.1" stroke="none"/>
</g>
<g stroke="#0072B2" fill="#0072B2">
<path d="M857.4 517.52H967M857.4 513.67V521.37M967 513.67V521.37" stroke-width="1" fill="none"/>
<path d="M872.85 517.52H918.15" stroke-width="2.9" stroke-linecap="round" fill="none"/>
<circle cx="893.2" cy="517.52" r="3.1" stroke="none"/>
</g>
<g stroke="#0072B2" fill="#0072B2">
<path d="M865.2 530.59H1051.4M865.2 526.74V534.44M1051.4 526.74V534.44" stroke-width="1" fill="none"/>
<path d="M889.45 530.59H952.15" stroke-width="2.9" stroke-linecap="round" fill="none"/>
<circle cx="914.8" cy="530.59" r="3.1" stroke="none"/>
</g>
<g stroke="#0072B2" fill="#0072B2">
<path d="M856 543.66H986M856 539.81V547.51M986 539.81V547.51" stroke-width="1" fill="none"/>
<path d="M893.85 543.66H944.35" stroke-width="2.9" stroke-linecap="round" fill="none"/>
<circle cx="916.6" cy="543.66" r="3.1" stroke="none"/>
</g>
<g stroke="#0072B2" fill="#0072B2">
<path d="M904.6 556.74H1012.4M904.6 552.89V560.59M1012.4 552.89V560.59" stroke-width="1" fill="none"/>
<path d="M927.85 556.74H975.55" stroke-width="2.9" stroke-linecap="round" fill="none"/>
<circle cx="951" cy="556.74" r="3.1" stroke="none"/>
</g>
<g stroke="#0072B2" fill="#0072B2">
<path d="M881 569.81H978.4M881 565.96V573.66M978.4 565.96V573.66" stroke-width="1" fill="none"/>
<path d="M913.45 569.81H941.55" stroke-width="2.9" stroke-linecap="round" fill="none"/>
<circle cx="926" cy="569.81" r="3.1" stroke="none"/>
</g>
<g stroke="#0072B2" fill="#0072B2">
<path d="M866.4 582.88H999M866.4 579.03V586.73M999 579.03V586.73" stroke-width="1" fill="none"/>
<path d="M888.85 582.88H940.55" stroke-width="2.9" stroke-linecap="round" fill="none"/>
<circle cx="908.4" cy="582.88" r="3.1" stroke="none"/>
</g>
<g stroke="#0072B2" fill="#0072B2">
<path d="M877.6 595.96H970.4M877.6 592.11V599.81M970.4 592.11V599.81" stroke-width="1" fill="none"/>
<path d="M905.65 595.96H939.15" stroke-width="2.9" stroke-linecap="round" fill="none"/>
<circle cx="923.4" cy="595.96" r="3.1" stroke="none"/>
</g>
<path d="M887.6 603.5V610.7M950.6 603.5V610.7M1013.6 603.5V610.7M1076.6 603.5V610.7" stroke="#000" stroke-width="1" fill="none"/>
<text x="887.6" y="627" text-anchor="middle" font-size="12">400</text>
<text x="950.6" y="627" text-anchor="middle" font-size="12">600</text>
<text x="1013.6" y="627" text-anchor="middle" font-size="12">800</text>
<rect x="841.6" y="334.5" width="237.7" height="269" fill="none" stroke="#000" stroke-width="1"/>
<path d="M841.6 352.5H1079.3" stroke="#000" stroke-width="1"/>
<text x="604" y="653.1" text-anchor="middle" font-size="15">5th-25th-50th-75th-95th Percentiles</text>
</svg></body></html>
